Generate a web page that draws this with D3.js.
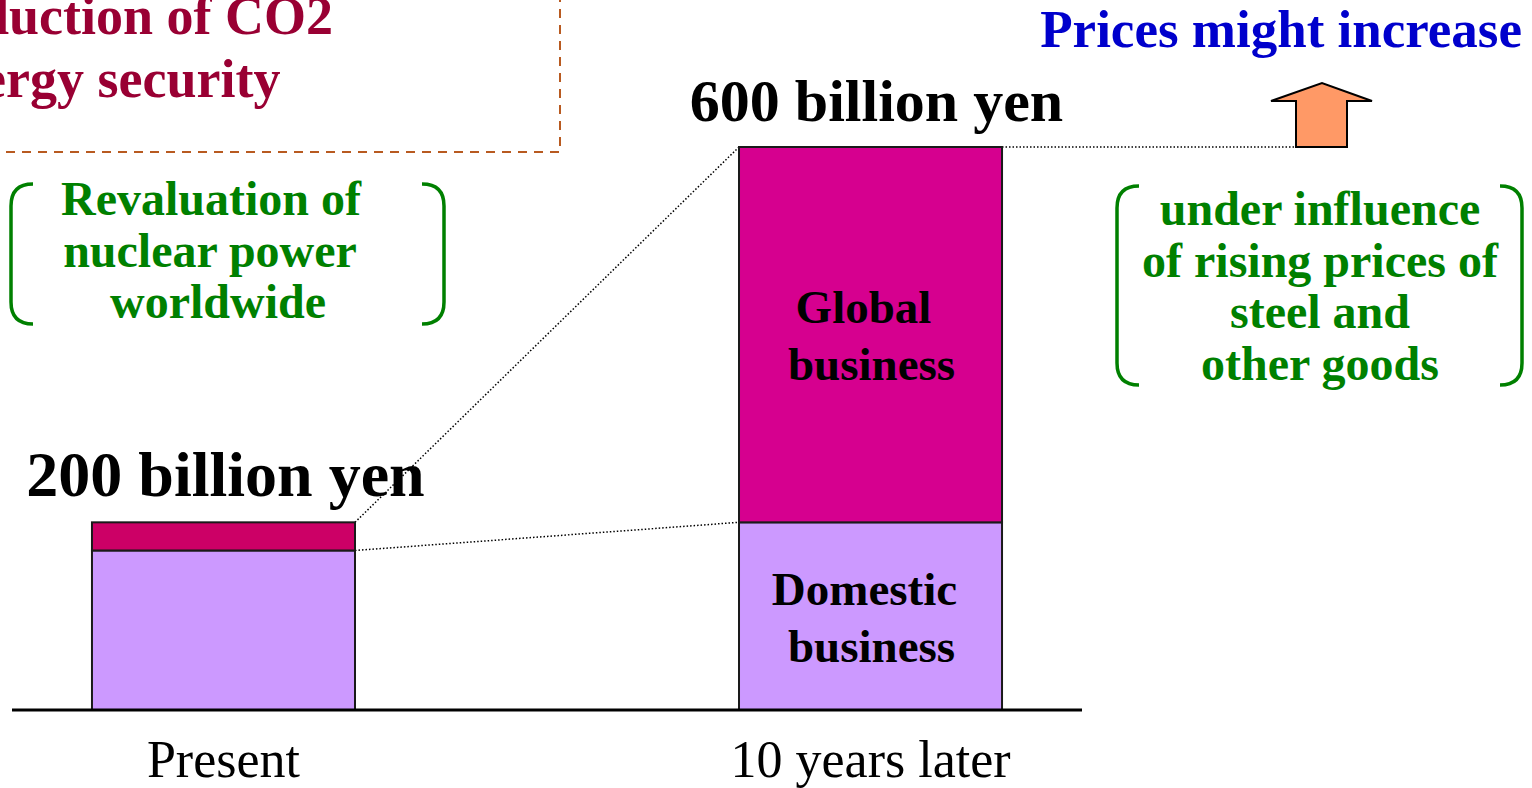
<!DOCTYPE html>
<html>
<head>
<meta charset="utf-8">
<script src="https://cdn.jsdelivr.net/npm/d3@7"></script>
<style>
  html, body { margin: 0; padding: 0; background: #fff; overflow: hidden; }
  svg { display: block; font-family: "Liberation Serif", "Times New Roman", serif; }
</style>
</head>
<body>
<div id="chart"></div>
<script>
// Market size (billion yen), stacked: domestic + global
const periods = ['Present', '10 years later'];
const domestic = [170, 200];
const global = [30, 400];
const totalLabels = ['200 billion yen', '600 billion yen'];

const width = 1532, height = 788;
const baseY = 710;

const svg = d3.select('#chart').append('svg')
    .attr('width', width).attr('height', height);

// Scales
const x = d3.scaleBand()
    .domain(periods)
    .range([12, 1082])
    .paddingInner(0.5935)
    .paddingOuter(0.1236);
const y = d3.scaleLinear()
    .domain([0, 600])
    .range([baseY, 147]);

const rows = periods.map((p, i) => ({period: p, domestic: domestic[i], global: global[i]}));
const stack = d3.stack().keys(['domestic', 'global'])(rows);
const fills = {
    domestic: ['#cc99ff', '#cc99ff'],
    global: ['#cc0066', '#d6008f']
};

// Dotted connector lines (drawn first so bars sit on top)
const x0r = x(periods[0]) + x.bandwidth(), x1l = x(periods[1]), x1r = x(periods[1]) + x.bandwidth();
const conn = svg.append('g')
    .attr('stroke', '#000').attr('stroke-width', 1.5)
    .attr('stroke-dasharray', '1.5 2');
conn.append('line')
    .attr('x1', x0r).attr('y1', y(domestic[0] + global[0]))
    .attr('x2', x1l).attr('y2', y(domestic[1] + global[1]));
conn.append('line')
    .attr('x1', x0r).attr('y1', y(domestic[0]))
    .attr('x2', x1l).attr('y2', y(domestic[1]));
conn.append('line')
    .attr('x1', x1r).attr('y1', y(domestic[1] + global[1]))
    .attr('x2', 1296).attr('y2', y(domestic[1] + global[1]));

// Bars
svg.append('g').selectAll('g.layer')
    .data(stack)
    .join('g').classed('layer', true)
    .selectAll('rect')
    .data(d => d.map((s, i) => ({key: d.key, i, s})))
    .join('rect')
    .attr('x', d => x(periods[d.i]))
    .attr('y', d => y(d.s[1]))
    .attr('width', x.bandwidth())
    .attr('height', d => y(d.s[0]) - y(d.s[1]))
    .attr('fill', d => fills[d.key][d.i])
    .attr('stroke', '#1a1a1a')
    .attr('stroke-width', 2);

// Baseline
svg.append('line')
    .attr('x1', 12).attr('x2', 1082)
    .attr('y1', baseY).attr('y2', baseY)
    .attr('stroke', '#000').attr('stroke-width', 3);

// Category labels
svg.append('g').selectAll('text')
    .data(periods)
    .join('text')
    .attr('x', d => x(d) + x.bandwidth() / 2)
    .attr('y', 777)
    .attr('text-anchor', 'middle')
    .attr('font-size', 52)
    .text(d => d);

// Total labels
const totalSizes = [64, 60];
const totalOffsets = [2, 6];
svg.append('g').selectAll('text')
    .data(periods)
    .join('text')
    .attr('x', (d, i) => x(d) + x.bandwidth() / 2 + totalOffsets[i])
    .attr('y', (d, i) => y(domestic[i] + global[i]) - 26)
    .attr('text-anchor', 'middle')
    .attr('font-weight', 'bold')
    .attr('font-size', (d, i) => totalSizes[i])
    .text((d, i) => totalLabels[i]);

// Segment labels inside the large bar
const cx = x(periods[1]) + x.bandwidth() / 2;
const segLabel = (lines, yStart, offs) => {
    const t = svg.append('text')
        .attr('text-anchor', 'middle')
        .attr('font-weight', 'bold')
        .attr('font-size', 47);
    lines.forEach((l, k) => t.append('tspan')
        .attr('x', cx + offs[k])
        .attr('y', yStart + k * 57)
        .text(l));
};
segLabel(['Global', 'business'], 323, [-7, 1]);
segLabel(['Domestic', 'business'], 605, [-6, 1]);

// Red dashed box with benefits (clipped at page edge)
svg.append('path')
    .attr('d', 'M-10,152 H560 V-10')
    .attr('fill', 'none')
    .attr('stroke', '#b85a20')
    .attr('stroke-width', 2)
    .attr('stroke-dasharray', '9 7');
const benefit = svg.append('text')
    .attr('fill', '#990033')
    .attr('font-weight', 'bold')
    .attr('font-size', 54);
benefit.append('tspan').attr('x', -84).attr('y', 34).text('Reduction of CO2');
benefit.append('tspan').attr('x', -84).attr('y', 97).text('Energy security');

// Green bracketed notes
function bracket(x1, x2, y1, y2) {
    const r = 22;
    const g = svg.append('g')
        .attr('fill', 'none')
        .attr('stroke', '#008000')
        .attr('stroke-width', 3.5);
    g.append('path')
        .attr('d', `M${x1 + r},${y1} Q${x1},${y1} ${x1},${y1 + r} V${y2 - r} Q${x1},${y2} ${x1 + r},${y2}`);
    g.append('path')
        .attr('d', `M${x2 - r},${y1} Q${x2},${y1} ${x2},${y1 + r} V${y2 - r} Q${x2},${y2} ${x2 - r},${y2}`);
}
function note(lines, xc, yStart, step, offs) {
    const t = svg.append('text')
        .attr('fill', '#008000')
        .attr('text-anchor', 'middle')
        .attr('font-weight', 'bold')
        .attr('font-size', 48);
    lines.forEach((l, k) => t.append('tspan')
        .attr('x', xc + (offs[k] || 0))
        .attr('y', yStart + k * step)
        .text(l));
}
bracket(11, 444, 184, 324);
note(['Revaluation of', 'nuclear power', 'worldwide'], 211, 215, 51.5, [0, -1, 7]);
bracket(1117, 1522, 186, 385);
note(['under influence', 'of rising prices of', 'steel and', 'other goods'], 1320, 225, 51.5, [0, 0, 0, 0]);

// Price arrow
svg.append('text')
    .attr('x', 1522).attr('y', 47)
    .attr('text-anchor', 'end')
    .attr('fill', '#0000cc')
    .attr('font-weight', 'bold')
    .attr('font-size', 53)
    .text('Prices might increase');
svg.append('path')
    .attr('d', 'M1296,147 V101 H1271 L1322,83 L1372,101 H1347 V147 Z')
    .attr('fill', '#ff9966')
    .attr('stroke', '#000')
    .attr('stroke-width', 2)
    .attr('stroke-linejoin', 'miter');
</script>
</body>
</html>
